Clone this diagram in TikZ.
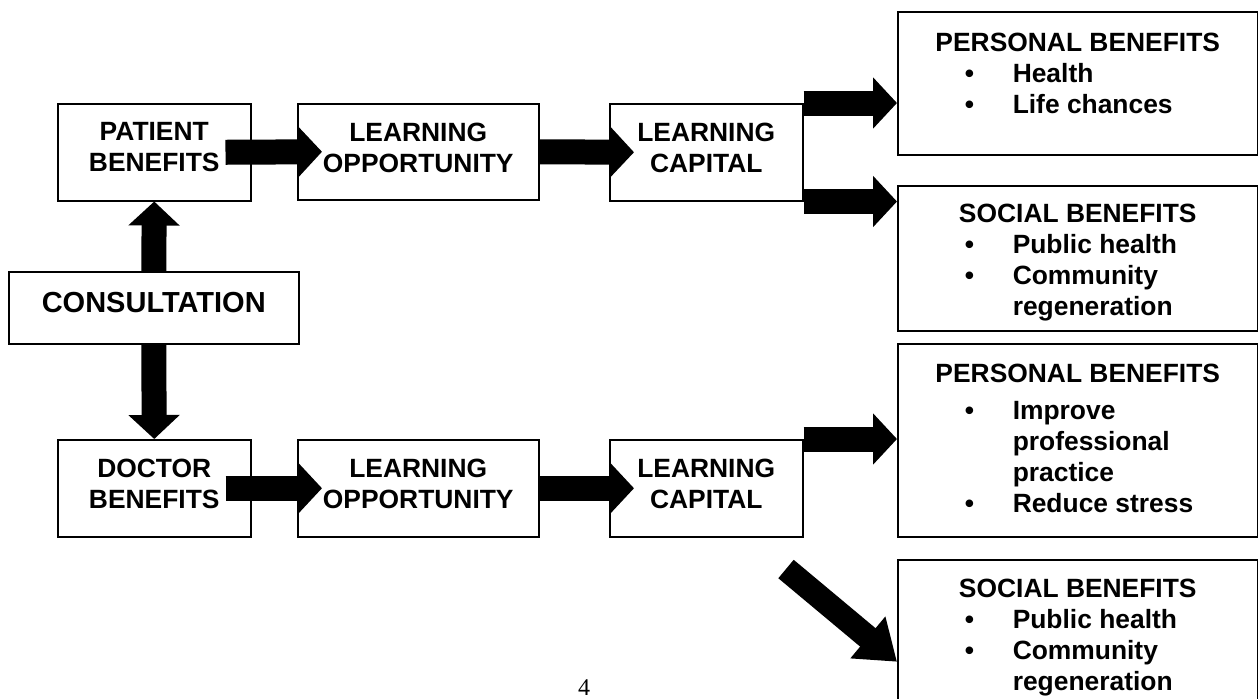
\documentclass[tikz,border=0pt]{standalone}
\usepackage{fontspec}
\setmainfont{Liberation Sans}
\newfontfamily\pagefont{Liberation Serif}
\usetikzlibrary{arrows.meta}

% box contents: width, height, gap above first line, text
\newcommand{\boxtext}[4]{\begin{minipage}[c][#2][t]{#1}\vspace*{#3}#4\end{minipage}}
\newcommand{\bul}[1]{\par\hspace*{33.5pt}\makebox[24pt][l]{\textbullet}#1}
\newcommand{\cont}[1]{\par\hspace*{57.5pt}#1}

\tikzset{
  box/.style={draw, line width=0.75pt, inner sep=0pt, anchor=north west,
    font=\bfseries\fontsize{13.2pt}{15.5pt}\selectfont},
  fat/.style={line width=12.5pt, -{Triangle[width=25pt,length=12pt]}},
  diag/.style={line width=12pt, -{Triangle[width=26pt,length=19pt]}},
}

\begin{document}
\begin{tikzpicture}[x=0.5pt,y=-0.5pt]
  \useasboundingbox (0,0) rectangle (1258,698);

  % patient side
  \node[box] (pb) at (57,103) {\boxtext{96.5pt}{48.5pt}{9.5pt}{\centering PATIENT\\BENEFITS}};
  \node[box] (plo) at (297,103) {\boxtext{120.5pt}{48pt}{9.5pt}{\centering LEARNING\\OPPORTUNITY}};
  \node[box] (plc) at (609,103) {\boxtext{96.5pt}{48.5pt}{9.5pt}{\centering LEARNING\\CAPITAL}};
  \node[box] (pp) at (897,11) {\boxtext{180pt}{71.5pt}{10.5pt}{%
    {\centering PERSONAL BENEFITS\par}\raggedright
    \bul{Health}\bul{Life chances}}};
  \node[box] (ps) at (897,185) {\boxtext{180pt}{72.5pt}{9pt}{%
    {\centering SOCIAL BENEFITS\par}\raggedright
    \bul{Public health}\bul{Community}\cont{regeneration}}};

  % consultation
  \node[box] (cons) at (8,271) {\boxtext{145pt}{36pt}{10pt}{\centering
    \fontsize{14.5pt}{17pt}\selectfont CONSULTATION}};

  % doctor side
  \node[box] (db) at (57,439) {\boxtext{96.5pt}{48.5pt}{9.5pt}{\centering DOCTOR\\BENEFITS}};
  \node[box] (dlo) at (297,439) {\boxtext{120.5pt}{48.5pt}{9.5pt}{\centering LEARNING\\OPPORTUNITY}};
  \node[box] (dlc) at (609,439) {\boxtext{96.5pt}{48.5pt}{9.5pt}{\centering LEARNING\\CAPITAL}};
  \node[box] (dp) at (897,343) {\boxtext{180pt}{96.5pt}{10pt}{%
    {\centering PERSONAL BENEFITS\par}\raggedright\vspace{3pt}%
    \bul{Improve}\cont{professional}\cont{practice}\bul{Reduce stress}}};
  \node[box] (ds) at (897,559) {\boxtext{180pt}{72.5pt}{9.5pt}{%
    {\centering SOCIAL BENEFITS\par}\raggedright
    \bul{Public health}\bul{Community}\cont{regeneration}}};

  \node[font=\pagefont\fontsize{12pt}{14pt}\selectfont, anchor=base, inner sep=0pt] (pg) at (584,695) {4};

  % arrows
  \draw[fat] (cons.north) -- (pb.south);
  \draw[fat] (cons.south) -- (db.north);

  \draw[fat] ([xshift=-13pt]pb.east) -- ([xshift=12.5pt]plo.west);
  \draw[fat] (plo.east) -- ([xshift=12.5pt]plc.west);
  \draw[fat] (plc.north east) -- (plc.north east -| pp.west);
  \draw[fat] (plc.south east) -- (plc.south east -| ps.west);

  \draw[fat] ([xshift=-13pt]db.east) -- ([xshift=12.5pt]dlo.west);
  \draw[fat] (dlo.east) -- ([xshift=12.5pt]dlc.west);
  \draw[fat] (dlc.north east) -- (dlc.north east -| dp.west);

  \coordinate (dtail) at (786,569);
  \draw[diag] (dtail) -- ([yshift=-14.75pt]ds.west);
\end{tikzpicture}
\end{document}
